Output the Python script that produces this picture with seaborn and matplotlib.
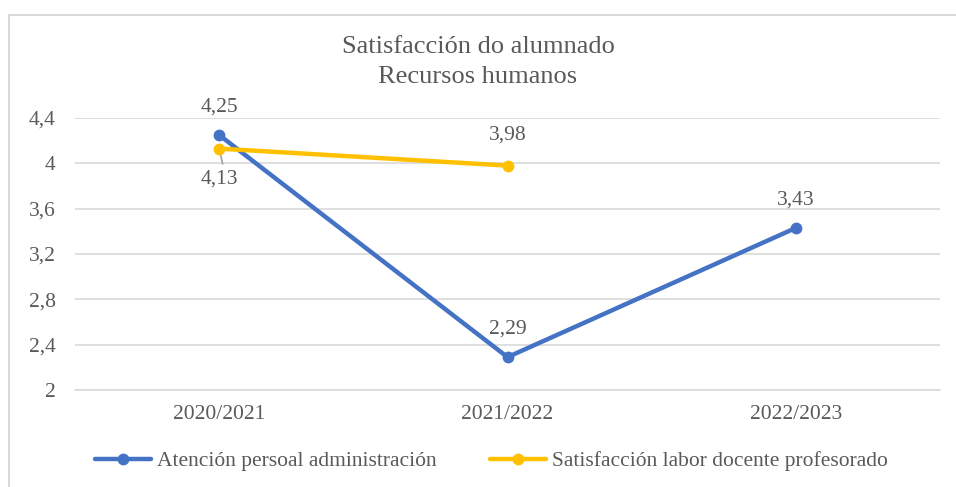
import numpy as np
import pandas as pd
import matplotlib
matplotlib.use("Agg")
import matplotlib.pyplot as plt
import seaborn as sns
from matplotlib.patches import Rectangle
from matplotlib.lines import Line2D

years = ["2020/2021", "2021/2022", "2022/2023"]
admin = [4.25, 2.29, 3.43]
docente = [4.13, 3.98, np.nan]
series_names = ["Atención persoal administración", "Satisfacción labor docente profesorado"]
colors = ["#4472C4", "#FFC000"]
yticks = [2, 2.4, 2.8, 3.2, 3.6, 4, 4.4]
title = "Satisfacción do alumnado\nRecursos humanos"

sns.set_theme(style="white")
plt.rcParams['font.family'] = ['Liberation Serif', 'DejaVu Serif']

fig = plt.figure(figsize=(9.56, 4.87), dpi=100)
ax = fig.add_axes([75/956, 1-390/487, (940-75)/956, (390-118)/487])

txt = "#595959"
fs = 15.5
for name, vals, col in zip(series_names, [admin, docente], colors):
    df = pd.DataFrame({"year": years, "value": vals}).dropna()
    sns.lineplot(data=df, x="year", y="value", ax=ax, color=col, linewidth=3.2,
                 marker="o", markersize=8.5, markeredgewidth=0, sort=False, zorder=3)

ax.set_xlim(-0.5, len(years) - 0.5)
ax.set_ylim(2, 4.4)
ax.set_yticks(yticks)
ax.set_yticklabels([f"{v:g}".replace(".", ",") for v in yticks], color=txt, fontsize=fs)
ax.yaxis.grid(True, color="#d9d9d9", linewidth=1.2)
ax.set_axisbelow(True)
ax.set_xticks(range(len(years)))
ax.set_xticklabels(years, color=txt, fontsize=fs)
ax.set_xticks(np.arange(-0.5, len(years)), minor=True)
ax.tick_params(axis="x", which="major", length=0, pad=11)
ax.tick_params(axis="x", which="minor", length=5, color="#d9d9d9", width=1.2, direction="out")
ax.tick_params(axis="y", length=0, pad=14)
ax.set_xlabel("")
ax.set_ylabel("")
for s in ["left", "right", "top"]:
    ax.spines[s].set_visible(False)
ax.spines["bottom"].set_color("#d9d9d9")
ax.spines["bottom"].set_linewidth(1.2)

def fmt(v):
    return f"{v:.2f}".replace(".", ",")

# data labels
for i, v in enumerate(admin):
    ax.annotate(fmt(v), (i, v), xytext=(0, 20), textcoords="offset points",
                ha="center", va="center", color=txt, fontsize=fs)
for i, v in enumerate(docente):
    if np.isnan(v):
        continue
    if i == 0:
        ax.annotate(fmt(v), (i, v), xytext=(0, -22), textcoords="offset points",
                    ha="center", va="center", color=txt, fontsize=fs)
        ax.annotate("", xy=(i, v), xytext=(2.5, -11), textcoords="offset points",
                    arrowprops=dict(arrowstyle="-", color="#a6a6a6", lw=1.3,
                                    shrinkA=0, shrinkB=3), zorder=2)
    else:
        ax.annotate(fmt(v), (i, v), xytext=(0, 22), textcoords="offset points",
                    ha="center", va="center", color=txt, fontsize=fs)

lines = title.split("\n")
fig.text(0.5, 1-47/487, lines[0], ha="center", va="center", color=txt, fontsize=19)
fig.text(0.5, 1-77/487, lines[1], ha="center", va="center", color=txt, fontsize=19)

handles = [Line2D([0], [0], color=c, lw=3.2, marker="o", markersize=8.5, markeredgewidth=0)
           for c in colors]
fig.legend(handles, series_names, loc="center", bbox_to_anchor=(0.514, 1-461/487),
           ncol=2, frameon=False, fontsize=fs, labelcolor=txt,
           handlelength=2.6, handletextpad=0.25, columnspacing=2.5)

fig.patches.append(Rectangle((8.5/956, -0.1), 1.2, 1.1 - 14.5/487, transform=fig.transFigure,
                             fill=False, edgecolor="#d9d9d9", linewidth=1.5))

fig.savefig("out.png", dpi=100)
